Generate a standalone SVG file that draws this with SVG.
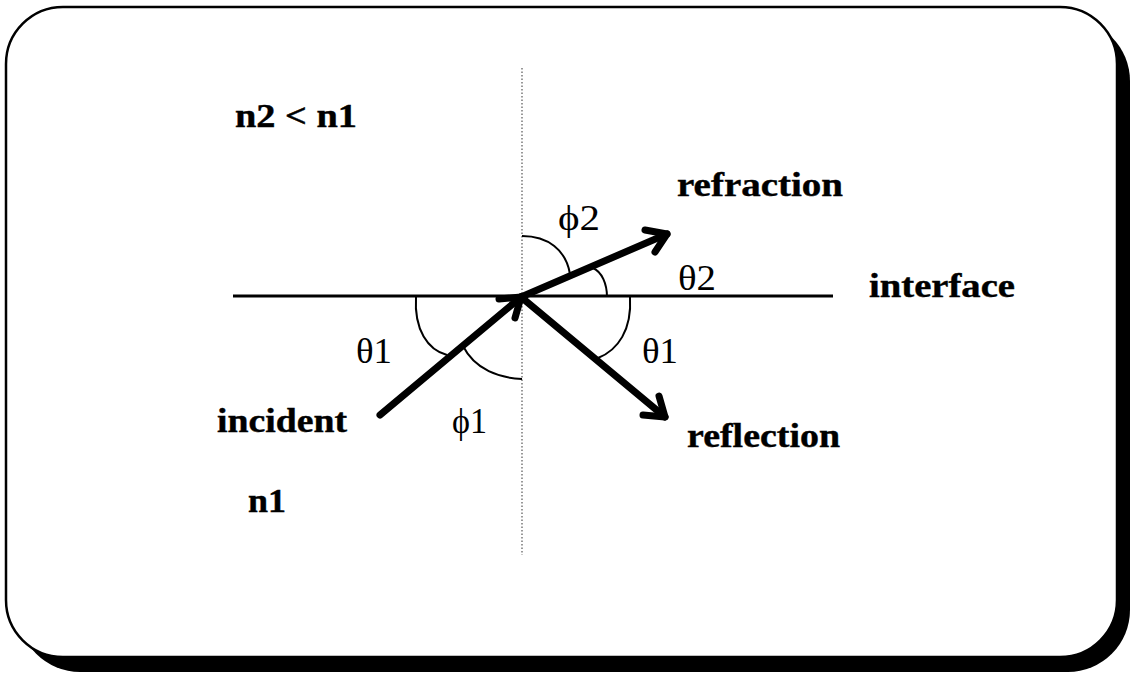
<svg xmlns="http://www.w3.org/2000/svg" width="1132" height="673" viewBox="0 0 1132 673">
<style>
.lbl{font-family:'Liberation Serif','Times New Roman',Times,serif;font-weight:700;font-size:33px;fill:#000;stroke:#000;stroke-width:0.4}
.gr{font-family:'Liberation Serif','Times New Roman',Times,serif;font-size:36px;fill:#000}
.ray{stroke:#000;stroke-width:7;stroke-linecap:round;stroke-linejoin:round;fill:none}
.arc{stroke:#000;stroke-width:2;fill:none}
</style>
<rect width="1132" height="673" fill="#fff"/>
<g id="frame">
<rect x="18" y="19" width="1112" height="653" rx="62" ry="62" fill="#000"/>
<rect x="6" y="7" width="1111" height="650" rx="57" ry="57" fill="#fff" stroke="#000" stroke-width="2.5"/>
</g>
<g id="normal">
<line x1="522" y1="68" x2="522" y2="555" stroke="#555" stroke-width="1.2" stroke-dasharray="1.5,2"/>
</g>
<g id="interface-line">
<line x1="233" y1="296" x2="833" y2="296" stroke="#000" stroke-width="3"/>
</g>
<g id="connectors">
<g id="incident-ray">
<line class="ray" x1="380" y1="415" x2="521" y2="297"/>
<polyline class="ray" points="499,299 521,297 515,318"/>
</g>
<g id="refraction-ray">
<line class="ray" x1="521" y1="297" x2="667" y2="234"/>
<polyline class="ray" points="645,230 667,234 655,252"/>
</g>
<g id="reflection-ray">
<line class="ray" x1="521" y1="297" x2="665" y2="417"/>
<polyline class="ray" points="659,396 665,417 643,415"/>
</g>
</g>
<g id="angles">
<path class="arc" d="M416,297 C414,330 428,350 447,355"/>
<path class="arc" d="M463,346 C475,370 500,378 522,379"/>
<path class="arc" d="M630,297 C632,330 618,350 598,358"/>
<path class="arc" d="M522,236 C548,236 566,250 570,274"/>
<path class="arc" d="M593,268 C602,272 607,284 607,297"/>
</g>
<g id="labels">
<text class="lbl" x="235" y="127" textLength="122" lengthAdjust="spacingAndGlyphs">n2 &lt; n1</text>
<text class="lbl" x="677" y="196" textLength="166" lengthAdjust="spacingAndGlyphs">refraction</text>
<text class="lbl" x="869" y="297" textLength="146" lengthAdjust="spacingAndGlyphs">interface</text>
<text class="lbl" x="217" y="432" textLength="130" lengthAdjust="spacingAndGlyphs">incident</text>
<text class="lbl" x="687" y="447" textLength="153" lengthAdjust="spacingAndGlyphs">reflection</text>
<text class="lbl" x="248" y="512" textLength="38" lengthAdjust="spacingAndGlyphs">n1</text>
<text class="gr" x="356" y="363" textLength="36" lengthAdjust="spacingAndGlyphs">θ1</text>
<text class="gr" x="642" y="363" textLength="36" lengthAdjust="spacingAndGlyphs">θ1</text>
<text class="gr" x="678" y="290" textLength="38" lengthAdjust="spacingAndGlyphs">θ2</text>
<text class="gr" x="558" y="230" textLength="42" lengthAdjust="spacingAndGlyphs">ϕ2</text>
<text class="gr" x="452" y="433" textLength="35" lengthAdjust="spacingAndGlyphs">ϕ1</text>
</g>
</svg>
